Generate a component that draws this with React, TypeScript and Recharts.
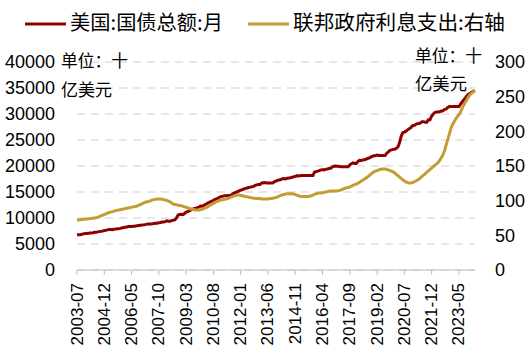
import React from 'react';
import { LineChart, Line, XAxis, YAxis, CartesianGrid, Legend } from 'recharts';

// Monthly series, first month 2003-07
const START_YEAR = 2003;
const START_MONTH = 7;

// 美国:国债总额:月 (十亿美元, left axis)
const debtValues = [
  6760, 6800, 6780, 6870, 6950, 7000,
  7000, 7050, 7130, 7130, 7170, 7240, 7270, 7330, 7380, 7430, 7470, 7600,
  7630, 7710, 7780, 7770, 7760, 7840, 7860, 7930, 7930, 8000, 8090, 8170,
  8200, 8270, 8370, 8350, 8360, 8420, 8420, 8500, 8510, 8590, 8620, 8680,
  8710, 8770, 8850, 8830, 8840, 8870, 8930, 8990, 9010, 9080, 9140, 9230,
  9240, 9300, 9440, 9370, 9390, 9490, 9590, 9650, 10020, 10570, 10670, 10700,
  10630, 10870, 11130, 11240, 11350, 11550, 11680, 11800, 11910, 11990, 12110, 12310,
  12280, 12430, 12600, 12800, 12950, 13100, 13240, 13390, 13560, 13670, 13860, 14030,
  14130, 14200, 14270, 14290, 14340, 14340, 14340, 14680, 14790, 14970, 15030, 15220,
  15360, 15440, 15580, 15690, 15770, 15860, 15930, 16020, 16070, 16260, 16370, 16430,
  16430, 16690, 16770, 16830, 16740, 16740, 16740, 16740, 16740, 17000, 17100, 17250,
  17290, 17400, 17550, 17600, 17520, 17630, 17690, 17750, 17820, 17930, 18010, 18140,
  18080, 18120, 18150, 18150, 18150, 18150, 18150, 18150, 18150, 18150, 18830, 18920,
  19010, 19120, 19260, 19290, 19260, 19380, 19430, 19510, 19570, 19800, 19950, 19980,
  19940, 19960, 19850, 19850, 19850, 19850, 19850, 19850, 20240, 20440, 20590, 20490,
  20490, 20860, 21090, 21070, 21140, 21200, 21300, 21460, 21520, 21700, 21850, 21970,
  21980, 22120, 22030, 22030, 22030, 22030, 22030, 22460, 22720, 23010, 23090, 23200,
  23220, 23410, 23690, 24500, 25700, 26400, 26530, 26700, 26950, 27150, 27380, 27750,
  27780, 27980, 28130, 28180, 28270, 28530, 28530, 28430, 28430, 28910, 28910, 29620,
  30010, 30290, 30400, 30380, 30430, 30570, 30620, 30890, 30930, 31240, 31420, 31420,
  31460, 31460, 31460, 31460, 31460, 31900, 32300, 32700, 33100, 33500, 33800, 34000,
  34200, 34400, 34450,
];

// 联邦政府利息支出 (十亿美元, right axis)
const interestValues = [
  72, 72, 72.5, 73, 73, 73.5,
  73.5, 74, 74, 74.5, 74.5, 75, 75.5, 76, 77, 78, 79, 80,
  81, 82, 83, 83.5, 84, 85, 85.5, 86, 86.5, 87, 87.5, 88,
  88.5, 89, 89.5, 90, 90.5, 91, 91.5, 92, 93, 94, 95, 96,
  97, 98, 98.5, 99, 100, 101, 101.5, 102, 102.5, 102.5, 102.5, 102,
  101.5, 101, 100.5, 99.5, 98, 96.5, 95, 94.5, 94, 93.5, 93, 92.5,
  92, 91, 90.5, 89.5, 89, 88, 87.5, 87, 86.5, 86.5, 86.5, 87,
  87.5, 88.5, 89.5, 90.5, 92, 93.5, 94.5, 96, 97.5, 98.5, 99.5, 100.5,
  101, 101.5, 102, 102.5, 103, 104, 105, 106, 107, 107.5, 108, 108,
  107.5, 107, 106.5, 106, 105.5, 105, 104.5, 104, 103.5, 103.5, 103, 103,
  103, 102.5, 102.5, 102.5, 102.5, 102.5, 103, 103, 103.5, 104, 104.5, 105.5,
  106.5, 107.5, 108.5, 109, 109.5, 110, 110, 110, 110, 109.5, 109, 108,
  107, 106.5, 106, 106, 106, 106, 106, 106.5, 107, 108, 109, 110,
  110.5, 111, 111, 111.5, 112, 112.5, 113, 113.5, 114, 114, 114, 114,
  114, 114.5, 115, 116, 117, 118, 118.5, 119, 120, 121, 122, 123,
  124, 125, 126.5, 128, 129.5, 131, 132.5, 134, 136, 138, 140, 141.5,
  142.5, 143.5, 144.5, 145, 145.5, 145.5, 145.5, 145, 144.5, 143.5, 142.5, 141.5,
  140, 138, 136, 134, 132, 130, 128.5, 127, 126, 125.5, 125.5, 126,
  127, 128, 129.5, 131, 133, 135, 137, 139, 141, 143, 145, 147,
  149, 151, 153, 155, 158, 162, 166, 172, 180, 188, 196, 204,
  210, 214, 218, 221, 224, 228, 233, 238, 242, 246, 250, 253,
  255, 257, 259,
];

const months = debtValues.map((_, i) => {
  const m = START_MONTH - 1 + i;
  const y = START_YEAR + Math.floor(m / 12);
  const mm = (m % 12) + 1;
  return `${y}-${String(mm).padStart(2, '0')}`;
});

const leftTicks = [0, 5000, 10000, 15000, 20000, 25000, 30000, 35000, 40000];
const rightTicks = [0, 50, 100, 150, 200, 250, 300];

const debtName = '美国:国债总额:月';
const interestName = '联邦政府利息支出:右轴';
const unitLine1 = '单位：十';
const unitLine2 = '亿美元';

const RED = '#8B0000';
const GOLD = '#C59B35';

const data = months.map((m, i) => ({
  month: m,
  debt: debtValues[i],
  interest: interestValues[i],
}));

const NUM_FONT = "'Liberation Sans', Arial, sans-serif";
const CJK_FONT = "'Noto Sans CJK SC', 'Noto Sans', sans-serif";

const XTick = (props: any) => {
  const { x, y, payload } = props;
  return (
    <text
      x={x}
      y={y}
      transform={`rotate(-90, ${x}, ${y})`}
      textAnchor="end"
      dominantBaseline="central"
      fontSize={17}
      fontFamily={NUM_FONT}
      fill="#000"
    >
      {payload.value}
    </text>
  );
};

const LegendContent = () => (
  <svg width={531} height={100} style={{ display: 'block', overflow: 'visible' }}>
    <line x1={25} y1={24} x2={66} y2={24} stroke={RED} strokeWidth={3} />
    <text x={70} y={30} fontSize={20} fontFamily={CJK_FONT} fill="#000" textLength={153} lengthAdjust="spacingAndGlyphs">
      {debtName}
    </text>
    <line x1={248} y1={24} x2={289} y2={24} stroke={GOLD} strokeWidth={3} />
    <text x={293} y={30} fontSize={20} fontFamily={CJK_FONT} fill="#000" textLength={212} lengthAdjust="spacingAndGlyphs">
      {interestName}
    </text>
    <text x={61} y={67} fontSize={17} fontFamily={CJK_FONT} fill="#000" textLength={67} lengthAdjust="spacingAndGlyphs">
      {unitLine1}
    </text>
    <text x={61} y={96} fontSize={17} fontFamily={CJK_FONT} fill="#000" textLength={51} lengthAdjust="spacingAndGlyphs">
      {unitLine2}
    </text>
    <text x={415} y={62} fontSize={17} fontFamily={CJK_FONT} fill="#000" textLength={67} lengthAdjust="spacingAndGlyphs">
      {unitLine1}
    </text>
    <text x={415} y={90} fontSize={17} fontFamily={CJK_FONT} fill="#000" textLength={52} lengthAdjust="spacingAndGlyphs">
      {unitLine2}
    </text>
  </svg>
);

export default function App() {
  return (
    <div style={{ position: 'absolute', left: 0, top: 0, width: 531, height: 354, background: '#fff' }}>
      <LineChart
        width={531}
        height={354}
        data={data}
        margin={{ top: 62, right: 0, left: 0, bottom: 0 }}
      >
        <CartesianGrid
          yAxisId="left"
          vertical={false}
          stroke="#CFCFCF"
          strokeDasharray="8 6"
          strokeWidth={1.2}
        />
        <XAxis
          dataKey="month"
          interval={16}
          height={84}
          tickSize={5}
          tickMargin={8}
          stroke="#BFBFBF"
          axisLine={{ stroke: '#BFBFBF' }}
          tickLine={{ stroke: '#BFBFBF' }}
          tick={<XTick />}
        />
        <YAxis
          yAxisId="left"
          domain={[0, 40000]}
          ticks={leftTicks}
          interval={0}
          width={77}
          axisLine={false}
          tickLine={false}
          tickSize={0}
          tickMargin={22}
          tick={{ fontSize: 18, fill: '#000', fontFamily: NUM_FONT }}
        />
        <YAxis
          yAxisId="right"
          orientation="right"
          domain={[0, 300]}
          ticks={rightTicks}
          interval={0}
          width={56}
          axisLine={false}
          tickLine={false}
          tickSize={0}
          tickMargin={20}
          tick={{ fontSize: 18, fill: '#000', fontFamily: NUM_FONT }}
        />
        <Legend
          layout="horizontal"
          align="center"
          verticalAlign="middle"
          wrapperStyle={{ top: 0, left: 0, width: 531, height: 100, pointerEvents: 'none' }}
          content={<LegendContent />}
        />
        <Line
          yAxisId="left"
          type="linear"
          dataKey="debt"
          name={debtName}
          stroke={RED}
          strokeWidth={3}
          dot={false}
          isAnimationActive={false}
        />
        <Line
          yAxisId="right"
          type="linear"
          dataKey="interest"
          name={interestName}
          stroke={GOLD}
          strokeWidth={3}
          dot={false}
          isAnimationActive={false}
        />
      </LineChart>
    </div>
  );
}
